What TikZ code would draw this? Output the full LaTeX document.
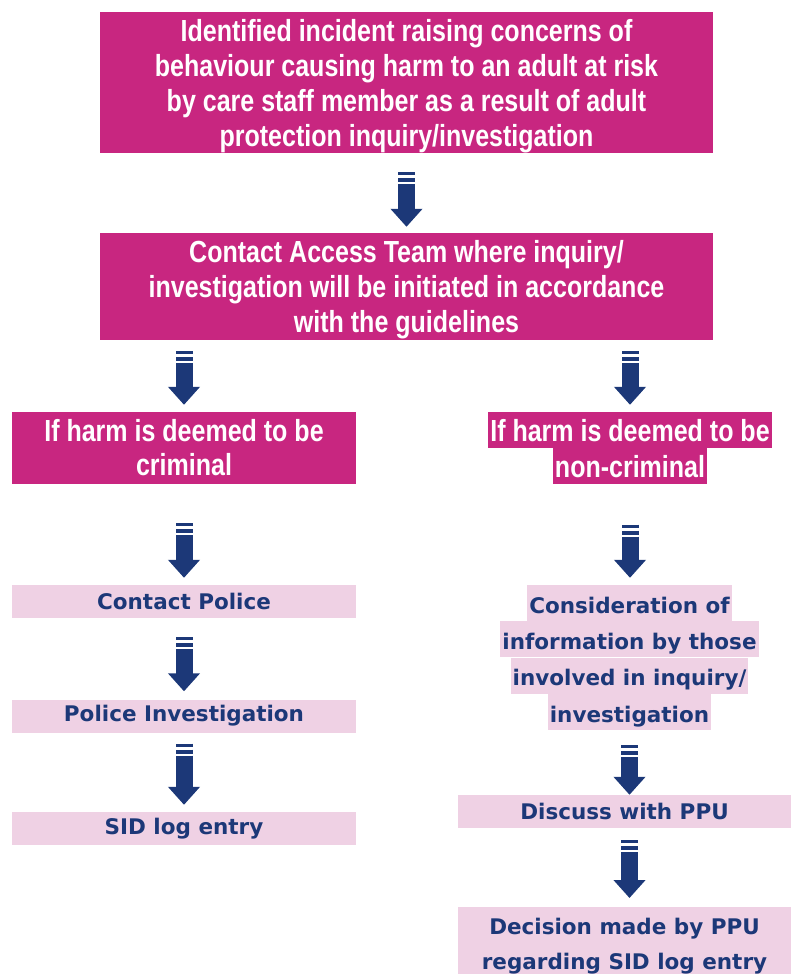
\documentclass[tikz,border=0pt]{standalone}
\usepackage{fontspec}
\usepackage{xcolor}
\usepackage{tikz}
\usetikzlibrary{
    positioning,
    arrows.meta
}
\newfontfamily\narrowsans[FakeStretch=0.82]{Liberation Sans}
\newfontfamily\widesans{DejaVu Sans}
\definecolor{magentabg}{RGB}{200,38,128}
\definecolor{pinkbg}{RGB}{239,209,228}
\definecolor{navy}{RGB}{28,56,120}
\tikzset{
    magbox/.style={
        rectangle, fill=magentabg, text=white,
        inner sep=0pt, align=center,
        font=\narrowsans\bfseries\fontsize{30.5}{35}\selectfont
    },
    magline/.style={
        magbox, inner xsep=2pt,
        text height=29pt, text depth=7pt
    },
    pinkbox/.style={
        rectangle, fill=pinkbg, text=navy,
        inner sep=0pt, align=center,
        font=\widesans\bfseries\fontsize{21.5}{35}\selectfont
    },
    pinkline/.style={
        pinkbox, inner xsep=2pt,
        text height=28pt, text depth=8pt
    },
    stripearrow/.style={
        draw=navy, line width=17pt,
        dash pattern=on 3pt off 3pt on 4pt off 2pt on 300pt,
        -{Triangle[width=31pt, length=18pt]}
    }
}

\begin{document}
\begin{tikzpicture}[
        x=1pt, y=-1pt,
        leftcol/.style={pinkbox, minimum width=344pt, minimum height=33pt},
        rightcol/.style={pinkbox, minimum width=333pt, minimum height=33pt}
    ]
        \useasboundingbox (0,0) rectangle (792,974);

        % Top boxes
        \node[magbox, minimum width=613pt, minimum height=141pt, text depth=0pt] (incident) at (406.5,82.5)
            {Identified incident raising concerns of\\behaviour causing harm to an adult at risk\\by care staff member as a result of adult\\protection inquiry/investigation};
        \node[magbox, minimum width=613pt, minimum height=107pt, text depth=0pt] (access) at (406.5,286.5)
            {Contact Access Team where inquiry/\\investigation will be initiated in accordance\\with the guidelines};

        % Criminal branch
        \node[magbox, minimum width=344pt, minimum height=72pt, font=\narrowsans\bfseries\fontsize{30.5}{34}\selectfont] (criminal) at (184,448)
            {If harm is deemed to be\\criminal};
        \node[leftcol] (police) at (184,601.5) {Contact Police};
        \node[leftcol] (policeinv) at (184,716) {Police Investigation};
        \node[leftcol] (sidlog) at (184,828.5) {SID log entry};

        % Non-criminal branch
        \node[magline] (noncrim1) at (630,430) {If harm is deemed to be};
        \node[magline, below=0pt of noncrim1] (noncrim2) {non-criminal};
        \node[pinkline] (consid1) at (629.5,603) {Consideration of};
        \node[pinkline, below=0pt of consid1] (consid2) {information by those};
        \node[pinkline, below=0pt of consid2] (consid3) {involved in inquiry/};
        \node[pinkline, below=0pt of consid3] (consid4) {investigation};
        \node[rightcol] (discuss) at (624.5,811.5) {Discuss with PPU};
        \node[rightcol, anchor=north, minimum height=78pt] (decision) at (624.5,907)
            {Decision made by PPU\\regarding SID log entry};

        % Arrows
        \draw[stripearrow, shorten <=19pt, shorten >=6pt] (incident) -- (access);
        \draw[stripearrow, shorten <=11pt, shorten >=7pt] (access.south -| criminal.north) -- (criminal.north);
        \draw[stripearrow, shorten <=11pt, shorten >=7pt] (access.south -| noncrim1.north) -- (noncrim1.north);
        \draw[stripearrow, shorten <=39pt, shorten >=7pt] (criminal) -- (police);
        \draw[stripearrow, shorten <=19pt, shorten >=8pt] (police) -- (policeinv);
        \draw[stripearrow, shorten <=11pt, shorten >=7pt] (policeinv) -- (sidlog);
        \draw[stripearrow, shorten <=40pt, shorten >=7pt] (noncrim2.south) -- (noncrim2.south |- consid1.north);
        \draw[stripearrow, shorten <=15pt, shorten >=0pt] (consid4.south) -- (consid4.south |- discuss.north);
        \draw[stripearrow, shorten <=12pt, shorten >=9pt] (discuss.south -| consid4.south) -- (decision.north -| consid4.south);

    \end{tikzpicture}
\end{document}
